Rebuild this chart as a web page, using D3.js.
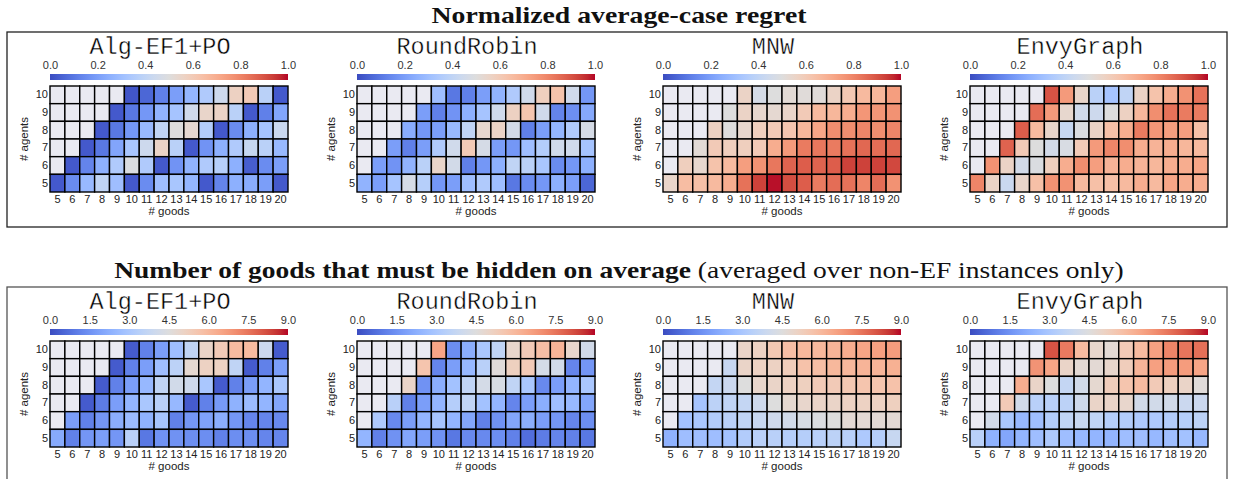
<!DOCTYPE html>
<html><head><meta charset="utf-8">
<script src="https://cdn.jsdelivr.net/npm/d3@7"></script>
<style>html,body{margin:0;padding:0;background:#fff;}svg{display:block;}</style>
</head><body>
<svg id="c" width="1233" height="479"></svg>
<script>
// ---------- data ----------
const goods = [5,6,7,8,9,10,11,12,13,14,15,16,17,18,19,20];
const agents = [10,9,8,7,6,5];
const algorithms = ["Alg-EF1+PO","RoundRobin","MNW","EnvyGraph"];
const regretTicks = [0.0,0.2,0.4,0.6,0.8,1.0];
const hiddenTicks = [0.0,1.5,3.0,4.5,6.0,7.5,9.0];
const N = null;

// Normalized average-case regret (rows: agents 10 -> 5, cols: goods 5 -> 20)
const regretAlgEF1PO = [
 [N,N,N,N,N,0.02,0.06,0.12,0.20,0.27,0.35,0.44,0.57,0.60,0.38,0.03],
 [N,N,N,N,0.03,0.10,0.18,0.26,0.32,0.45,0.55,0.56,0.38,0.03,0.12,0.22],
 [N,N,N,0.03,0.10,0.18,0.28,0.40,0.50,0.53,0.36,0.03,0.15,0.25,0.32,0.43],
 [N,N,0.03,0.10,0.22,0.33,0.44,0.56,0.38,0.03,0.17,0.25,0.35,0.42,0.38,0.28],
 [N,0.03,0.13,0.25,0.35,0.49,0.35,0.03,0.17,0.26,0.35,0.37,0.25,0.04,0.15,0.20],
 [0.03,0.15,0.28,0.40,0.30,0.03,0.15,0.30,0.33,0.27,0.03,0.13,0.25,0.24,0.20,0.03]
];
const regretRoundRobin = [
 [N,N,N,N,N,0.30,0.10,0.12,0.20,0.26,0.35,0.45,0.58,0.63,0.45,0.18],
 [N,N,N,N,0.20,0.12,0.17,0.25,0.32,0.45,0.57,0.62,0.45,0.13,0.16,0.23],
 [N,N,N,0.24,0.18,0.20,0.28,0.40,0.54,0.56,0.46,0.12,0.20,0.27,0.35,0.47],
 [N,N,0.20,0.12,0.20,0.35,0.45,0.60,0.47,0.20,0.18,0.30,0.36,0.45,0.45,0.32],
 [N,0.20,0.17,0.26,0.38,0.55,0.46,0.12,0.18,0.25,0.40,0.38,0.33,0.15,0.18,0.25],
 [0.26,0.20,0.32,0.47,0.37,0.18,0.20,0.30,0.35,0.30,0.10,0.15,0.18,0.25,0.20,0.06]
];
const regretMNW = [
 [N,N,N,N,N,0.56,0.47,0.50,0.52,0.51,0.51,0.56,0.61,0.66,0.67,0.74],
 [N,N,N,N,0.50,0.56,0.54,0.53,0.55,0.60,0.66,0.67,0.70,0.76,0.76,0.77],
 [N,N,N,0.57,0.50,0.54,0.58,0.60,0.62,0.67,0.72,0.78,0.78,0.80,0.78,0.80],
 [N,N,0.52,0.60,0.58,0.58,0.60,0.70,0.75,0.82,0.83,0.82,0.84,0.86,0.85,0.86],
 [N,0.58,0.54,0.63,0.66,0.74,0.77,0.83,0.87,0.88,0.87,0.88,0.93,0.93,0.93,0.92],
 [0.55,0.65,0.64,0.66,0.70,0.84,0.93,0.99,0.91,0.88,0.82,0.85,0.84,0.80,0.85,0.77]
];
const regretEnvyGraph = [
 [N,N,N,N,N,0.90,0.75,0.55,0.38,0.32,0.40,0.56,0.63,0.70,0.77,0.84],
 [N,N,N,N,0.85,0.75,0.54,0.45,0.44,0.50,0.57,0.67,0.78,0.84,0.82,0.82],
 [N,N,N,0.88,0.66,0.55,0.42,0.49,0.56,0.64,0.70,0.82,0.76,0.74,0.74,0.64],
 [N,N,0.87,0.60,0.50,0.46,0.48,0.60,0.75,0.80,0.78,0.70,0.68,0.70,0.67,0.66],
 [N,0.77,0.56,0.46,0.49,0.58,0.70,0.78,0.74,0.68,0.70,0.68,0.67,0.70,0.70,0.72],
 [0.80,0.56,0.43,0.55,0.64,0.77,0.77,0.66,0.64,0.64,0.66,0.70,0.66,0.72,0.70,0.70]
];

// Number of goods that must be hidden on average
const hiddenAlgEF1PO = [
 [N,N,N,N,N,0.3,1.1,1.8,2.7,3.6,5.0,5.4,5.9,5.9,3.9,0.3],
 [N,N,N,N,0.3,1.1,1.8,2.7,3.5,4.8,5.1,5.1,3.6,0.3,1.1,1.8],
 [N,N,N,0.3,1.1,1.8,2.5,3.6,4.1,4.0,3.0,0.3,1.1,1.8,2.4,3.0],
 [N,N,0.3,1.0,1.8,2.4,3.0,3.4,2.5,0.3,1.1,1.7,2.3,2.6,2.4,2.0],
 [N,1.8,1.1,1.6,2.2,2.6,2.3,2.9,1.1,1.6,1.9,2.2,1.6,1.2,1.2,1.3],
 [2.1,1.1,1.6,1.8,1.6,3.4,0.9,1.5,1.5,1.4,1.4,1.1,1.4,1.4,1.2,1.2]
];
const hiddenRoundRobin = [
 [N,N,N,N,N,6.5,1.4,2.2,3.0,3.6,4.9,5.4,5.8,6.1,4.9,4.1],
 [N,N,N,N,5.6,1.2,1.8,2.5,3.4,4.6,5.2,5.4,4.2,4.1,1.2,1.6],
 [N,N,N,5.0,1.5,2.2,2.8,3.6,4.2,4.3,3.6,3.0,1.3,1.8,2.4,3.0],
 [N,N,3.4,1.1,1.8,2.4,3.3,3.6,2.8,2.4,1.2,1.8,2.2,2.7,2.5,2.0],
 [N,3.1,1.3,1.8,2.4,2.9,2.4,2.0,1.1,1.5,2.0,2.2,1.8,1.6,1.2,1.4],
 [2.4,1.1,1.5,2.0,1.8,1.5,0.9,1.3,1.3,1.4,1.1,0.7,1.0,1.2,1.1,0.9]
];
const hiddenMNW = [
 [N,N,N,N,N,5.0,5.1,5.5,5.8,6.0,6.0,6.1,6.3,6.5,6.6,6.7],
 [N,N,N,N,3.8,5.0,5.1,5.1,5.3,5.7,5.8,6.0,6.0,6.1,6.1,6.2],
 [N,N,N,3.7,3.9,4.5,4.9,5.0,5.1,5.2,5.4,5.4,5.5,5.6,5.6,5.7],
 [N,N,2.9,3.5,3.6,3.7,4.0,4.5,4.8,4.9,5.0,5.0,5.1,5.1,5.1,5.2],
 [N,2.8,3.0,3.2,3.4,3.6,3.8,4.0,4.1,4.3,4.4,4.5,4.7,4.7,4.7,4.7],
 [2.3,2.7,2.7,2.7,2.8,3.2,3.4,3.4,3.3,3.3,3.4,3.5,3.4,3.1,3.3,3.8]
];
const hiddenEnvyGraph = [
 [N,N,N,N,N,8.1,7.4,5.9,4.9,4.7,5.4,5.9,6.6,7.2,7.5,7.6],
 [N,N,N,N,6.9,6.5,5.0,4.7,4.7,4.9,5.3,6.1,6.6,6.7,6.7,6.5],
 [N,N,N,6.3,5.0,4.5,3.7,4.1,4.8,5.3,5.6,5.9,5.4,5.2,5.0,4.6],
 [N,N,5.4,4.1,3.4,3.4,3.5,4.0,5.0,5.0,4.9,4.1,4.1,4.1,3.9,3.9],
 [N,4.1,3.0,2.5,2.7,3.2,3.6,3.8,3.6,3.3,3.2,3.1,3.1,3.2,3.3,3.5],
 [3.4,2.3,2.0,2.4,2.7,3.1,2.7,2.5,2.4,2.4,2.7,2.7,2.5,2.7,2.8,2.5]
];

// coolwarm colormap control points
const coolwarmStops = [
 [59,76,192],[68,90,204],[77,104,215],[87,117,225],[98,130,234],[108,142,241],[119,154,247],[130,165,251],
 [141,176,254],[152,185,255],[163,194,255],[174,201,253],[184,208,249],[194,213,244],[204,217,238],[213,219,230],
 [221,221,221],[229,216,209],[236,211,197],[241,204,185],[245,196,173],[247,187,160],[247,177,148],[247,166,135],
 [244,154,123],[241,141,111],[236,127,99],[229,112,88],[222,96,77],[213,80,66],[203,62,56],[192,40,47],[180,4,38]
];
const cwColors = coolwarmStops.map(c => d3.rgb(c[0],c[1],c[2]).formatHex());
const cwDomain = cwColors.map((_,i) => i/(cwColors.length-1));

// ---------- drawing ----------
const svg = d3.select("#c");
const nanColor = "#EAEAF2";

// frames
svg.append("rect").attr("x",7).attr("y",32).attr("width",1220).attr("height",195)
  .attr("fill","none").attr("stroke","#222").attr("stroke-width",1.3);
svg.append("rect").attr("x",7).attr("y",287).attr("width",1220).attr("height",220)
  .attr("fill","none").attr("stroke","#555").attr("stroke-width",1.3);

// main titles, stretched horizontally to the reference width
function stretch(sel, cx, targetW) {
  const w = sel.node().getBBox().width;
  const sx = targetW / w;
  sel.attr("transform", `translate(${cx},0) scale(${sx},1) translate(${-cx},0)`);
}
const serif = "'Liberation Serif','DejaVu Serif',serif";
const t1 = svg.append("text").attr("x",619).attr("y",23).attr("text-anchor","middle")
  .style("font-family",serif).style("font-weight","bold").style("font-size","24px")
  .attr("fill","#111").text("Normalized average-case regret");
stretch(t1, 619, 375);
const t2 = svg.append("text").attr("x",619).attr("y",278).attr("text-anchor","middle")
  .style("font-family",serif).style("font-size","24px").attr("fill","#111");
t2.append("tspan").style("font-weight","bold").text("Number of goods that must be hidden on average");
t2.append("tspan").text(" (averaged over non-EF instances only)");
stretch(t2, 619, 1010);

const defs = svg.append("defs");
const grad = defs.append("linearGradient").attr("id","cw").attr("x1","0%").attr("x2","100%").attr("y1","0%").attr("y2","0%");
cwColors.forEach((c,i) => grad.append("stop").attr("offset", (cwDomain[i]*100)+"%").attr("stop-color", c));

const panelLefts = [50,357,663,970];
const panelW = 238;

const rows = [
  {y0:0, max:1.0, ticks:regretTicks, fmt:d3.format(".1f"),
   data:[regretAlgEF1PO, regretRoundRobin, regretMNW, regretEnvyGraph]},
  {y0:255, max:9.0, ticks:hiddenTicks, fmt:d3.format(".1f"),
   data:[hiddenAlgEF1PO, hiddenRoundRobin, hiddenMNW, hiddenEnvyGraph]}
];

const sans = "'Liberation Sans',Arial,sans-serif";

rows.forEach(row => {
  const color = d3.scaleLinear().domain(cwDomain.map(d => d*row.max)).range(cwColors).interpolate(d3.interpolateRgb).clamp(true);
  row.data.forEach((mat, pi) => {
    const left = panelLefts[pi];
    const x = d3.scaleBand().domain(goods).range([left, left+panelW]).padding(0);
    const y = d3.scaleBand().domain(agents).range([row.y0+86, row.y0+192]).padding(0);
    const g = svg.append("g");

    // subtitle (Courier-like, slightly thinned)
    g.append("text").attr("x", left+panelW/2-9).attr("y", row.y0+54).attr("text-anchor","middle")
      .style("font-family","'Liberation Mono','Courier New',monospace").style("font-size","23.5px")
      .attr("fill","#000").attr("stroke","#fff").attr("stroke-width",0.4)
      .text(algorithms[pi]);

    // colorbar
    const cb = d3.scaleLinear().domain([0,row.max]).range([left, left+panelW]);
    g.append("rect").attr("x",left).attr("y",row.y0+74).attr("width",panelW).attr("height",6).attr("fill","url(#cw)");
    const cbAxis = d3.axisTop(cb).tickValues(row.ticks).tickFormat(row.fmt).tickSize(0).tickPadding(4);
    const cbg = g.append("g").attr("transform",`translate(0,${row.y0+73})`).call(cbAxis);
    cbg.select(".domain").remove();
    cbg.selectAll("text").style("font-family",sans).style("font-size","11px").attr("fill","#333");

    // cells
    const cells = [];
    mat.forEach((r,ri) => r.forEach((v,ci) => cells.push({a:agents[ri], g:goods[ci], v})));
    g.selectAll("rect.cell").data(cells).join("rect").attr("class","cell")
      .attr("x", d => x(d.g)).attr("y", d => y(d.a))
      .attr("width", x.bandwidth()).attr("height", y.bandwidth())
      .attr("fill", d => d.v === null ? nanColor : color(d.v))
      .attr("stroke","#000").attr("stroke-width",1.4);

    // axes
    const xa = g.append("g").attr("transform",`translate(0,${row.y0+192})`)
      .call(d3.axisBottom(x).tickSize(0).tickPadding(3));
    xa.select(".domain").remove();
    xa.selectAll("text").style("font-family",sans).style("font-size","11px").attr("fill","#222");
    const ya = g.append("g").attr("transform",`translate(${left},0)`)
      .call(d3.axisLeft(y).tickSize(0).tickPadding(2));
    ya.select(".domain").remove();
    ya.selectAll("text").style("font-family",sans).style("font-size","11px").attr("fill","#222");

    g.append("text").attr("x", left+panelW/2).attr("y", row.y0+215).attr("text-anchor","middle")
      .style("font-family",sans).style("font-size","11.5px").attr("fill","#222").text("# goods");
    g.append("text").attr("transform",`translate(${left-22},${row.y0+139}) rotate(-90)`).attr("text-anchor","middle")
      .style("font-family",sans).style("font-size","11.5px").attr("fill","#222").text("# agents");
  });
});
</script>
</body></html>
